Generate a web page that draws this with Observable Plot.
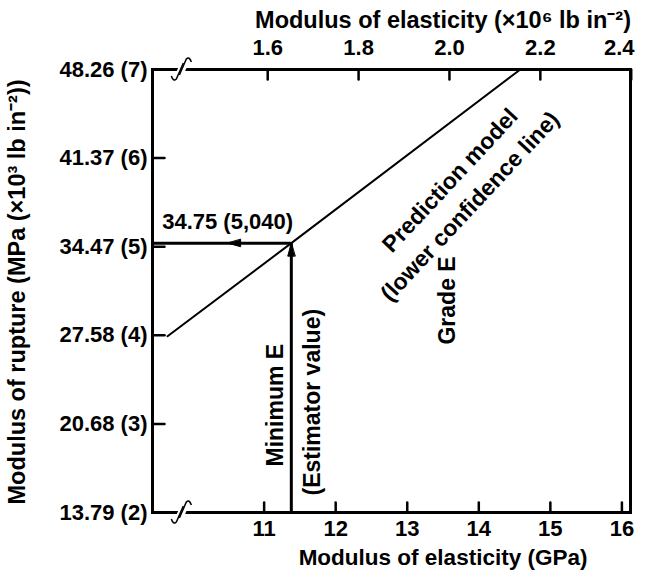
<!DOCTYPE html>
<html><head><meta charset="utf-8">
<script src="https://cdn.jsdelivr.net/npm/d3@7"></script>
<script src="https://cdn.jsdelivr.net/npm/@observablehq/plot@0.6"></script>
<style>body{margin:0;background:#fff} #chart svg{display:block}</style>
</head><body><div id="chart"></div>
<script>
// ---- data ----
const gpaTicks = [11, 12, 13, 14, 15, 16];
const psiTicks = [1.6, 1.8, 2.0, 2.2, 2.4];
const mpaTicks = [13.79, 20.68, 27.58, 34.47, 41.37, 48.26];
const ksiLabels = [2, 3, 4, 5, 6, 7];
const xDomain = [9.44, 16.12];
const yDomain = [13.79, 48.26];
const predictionLine = [
  {e: 9.65, mor: 27.5},
  {e: 11.38, mor: 34.75},
  {e: 14.58, mor: 48.26}
];
const minimumE = 11.38;      // GPa (1.65 x10^6 psi)
const morAtMinE = 34.75;     // MPa
const morLabel = "34.75 (5,040)";
const breakAt = 9.85;
const arrowTipX = 10.49;
// top axis as drawn in the figure (psi x10^6 -> position on GPa axis)
const psiToAxis = p => 11.05 + (p - 1.6) * 6.35;

const annotations = [
  {text: "Prediction model", e: 13.60, mor: 39.62, rotate: -47},
  {text: "(lower confidence line)", e: 13.88, mor: 37.6, rotate: -47},
  {text: "Grade E", e: 13.57, mor: 30.29, rotate: -90},
  {text: "Minimum E", e: 11.16, mor: 22.14, rotate: -90},
  {text: "(Estimator value)", e: 11.68, mor: 22.37, rotate: -90}
];

const FONT = "Liberation Sans, Arial, Helvetica, sans-serif";
const FS = 22;
const FA = 23;

const lineShape = {draw(ctx, l) { ctx.moveTo(0, 0); ctx.lineTo(0, -l); }};
const headShape = {draw(ctx, l) { ctx.moveTo(0, -l); ctx.lineTo(-3.6, 0); ctx.lineTo(3.6, 0); ctx.closePath(); }};

const breakMark = (edge) => (index, scales, values, dimensions) => {
  const cx = scales.x(breakAt);
  const cy = edge === "top" ? dimensions.marginTop : dimensions.height - dimensions.marginBottom;
  const g = d3.create("svg:g").attr("transform", `translate(${cx},${cy})`);
  g.append("path").attr("d", "M-6,5 L1,-10 L7,-5 L0,10 Z").attr("fill", "white");
  g.append("path").attr("d", "M-10,7 Q-8,13 -5,10 L2,-6").attr("fill", "none").attr("stroke", "black").attr("stroke-width", 1.5);
  g.append("path").attr("d", "M-2,6 L5,-10 Q8,-13 10,-7").attr("fill", "none").attr("stroke", "black").attr("stroke-width", 1.5);
  return g.node();
};

const T = {fontSize: FS, fontWeight: "bold", fill: "black", lineAnchor: "middle"};

const chart = Plot.plot({
  width: 646,
  height: 578,
  marginTop: 69,
  marginRight: 16,
  marginBottom: 66,
  marginLeft: 152,
  style: {fontFamily: FONT, background: "white"},
  x: {domain: xDomain, axis: null},
  y: {domain: yDomain, axis: null},
  marks: [
    // prediction model line
    Plot.line(predictionLine, {x: "e", y: "mor", stroke: "black", strokeWidth: 2}),
    // minimum E vertical & MOR horizontal
    Plot.ruleX([minimumE], {y1: yDomain[0], y2: morAtMinE, stroke: "black", strokeWidth: 3}),
    Plot.ruleY([morAtMinE], {x1: xDomain[0], x2: minimumE, stroke: "black", strokeWidth: 3}),
    Plot.vector([{x: arrowTipX, y: morAtMinE, r: -90}, {x: minimumE, y: morAtMinE, r: 0}],
      {x: "x", y: "y", rotate: "r", length: 13, anchor: "end", shape: headShape, fill: "black", stroke: "black", strokeWidth: 1}),
    // frame
    Plot.frame({stroke: "black", strokeWidth: 3}),
    // ticks
    Plot.vector(gpaTicks, {x: d => d, frameAnchor: "bottom", length: 10, rotate: 0, anchor: "start", shape: lineShape, stroke: "black", strokeWidth: 2.5}),
    Plot.vector(psiTicks, {x: psiToAxis, frameAnchor: "top", length: 10, rotate: 180, anchor: "start", shape: lineShape, stroke: "black", strokeWidth: 2.5}),
    Plot.vector(mpaTicks, {y: d => d, frameAnchor: "left", length: 12, rotate: 90, anchor: "start", shape: lineShape, stroke: "black", strokeWidth: 2.5}),
    // breaks
    breakMark("top"),
    breakMark("bottom"),
    // tick labels
    Plot.text(gpaTicks, {...T, x: d => d, frameAnchor: "bottom", dy: 16, text: d => String(d)}),
    Plot.text(psiTicks.slice(0, -1), {...T, x: psiToAxis, frameAnchor: "top", dy: -22, text: d => d.toFixed(1)}),
    Plot.text(psiTicks.slice(-1), {...T, x: psiToAxis, frameAnchor: "top", dy: -22, dx: -12, text: d => d.toFixed(1)}),
    Plot.text(mpaTicks, {...T, y: d => d, frameAnchor: "left", dx: -5, textAnchor: "end", text: (d, i) => `${d.toFixed(2)} (${ksiLabels[i]})`}),
    // axis titles
    Plot.text(["Modulus of elasticity (GPa)"], {...T, fontSize: 22.5, x: 13.5, frameAnchor: "bottom", dy: 45, textAnchor: "middle", text: d => d}),
    Plot.text(["Modulus of elasticity (×10⁶ lb in⁻²)"], {...T, fontSize: 23.5, x: 13.5, frameAnchor: "top", dy: -49, textAnchor: "middle", text: d => d}),
    Plot.text(["Modulus of rupture (MPa (×10³ lb in⁻²))"], {...T, fontSize: 23.5, y: 30.95, frameAnchor: "left", dx: -135, textAnchor: "middle", rotate: -90, text: d => d}),
    // annotations
    Plot.text([morLabel], {...T, x: arrowTipX, y: morAtMinE, dy: -21, text: d => d}),
    Plot.text(annotations, {...T, fontSize: FA, x: "e", y: "mor", text: "text", rotate: "rotate"})
  ]
});
document.getElementById("chart").append(chart);
</script>
</body></html>
